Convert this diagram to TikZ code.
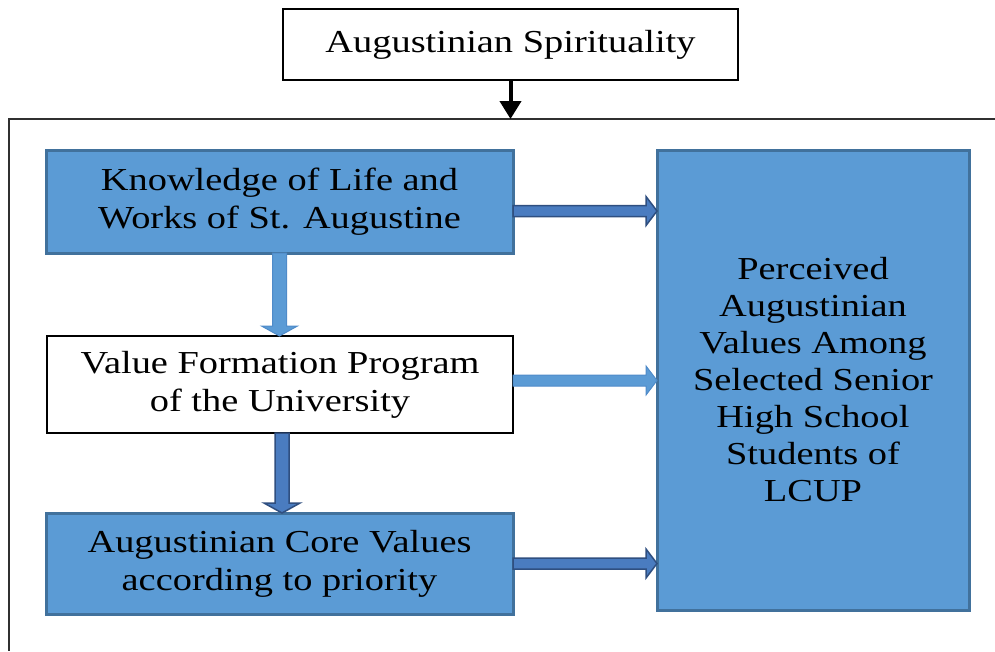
\documentclass[tikz,border=0pt]{standalone}
\usepackage{fontspec}
\setmainfont{Liberation Serif}[FakeStretch=1.2]
\usetikzlibrary{calc,arrows.meta}
\definecolor{boxfill}{HTML}{5B9BD5}
\definecolor{boxdraw}{HTML}{41719C}
\definecolor{darkfill}{HTML}{4A7CC0}
\definecolor{darkdraw}{HTML}{2F4F80}
\definecolor{lightdraw}{HTML}{4F8BC9}
\definecolor{framecol}{HTML}{303030}
\newcommand\hblock[3]{%
  \draw[#3] let \p1=(#1), \p2=(#2) in
    (\x1,\y1+5.5pt) -- (\x2-11pt,\y1+5.5pt) -- (\x2-11pt,\y1+14.5pt) -- (\x2,\y1)
    -- (\x2-11pt,\y1-14.5pt) -- (\x2-11pt,\y1-5.5pt) -- (\x1,\y1-5.5pt) -- cycle;}
\newcommand\vblock[3]{%
  \draw[#3] let \p1=(#1), \p2=(#2) in
    (\x1-7pt,\y1) -- (\x1-7pt,\y2+10pt) -- (\x1-18pt,\y2+10pt) -- (\x1,\y2)
    -- (\x1+18pt,\y2+10pt) -- (\x1+7pt,\y2+10pt) -- (\x1+7pt,\y1) -- cycle;}
\begin{document}
\begin{tikzpicture}[x=1pt,y=-1pt,
  txt/.style={font=\fontsize{32}{38}\selectfont, align=center, inner sep=0pt, outer sep=0pt},
  bluebox/.style={txt, draw=boxdraw, fill=boxfill, line width=3pt},
  whitebox/.style={txt, draw=black, fill=white, line width=2pt},
  darkarrow/.style={fill=darkfill, draw=darkdraw, line width=1.5pt, line join=miter},
  lightarrow/.style={fill=boxfill, draw=lightdraw, line width=1pt, line join=miter}]
\useasboundingbox (0,0) rectangle (995,651);
% outer frame
\coordinate (f1) at (995,119);
\coordinate (f2) at (9,119);
\coordinate (f3) at (9,651);
\draw[framecol, line width=2.5pt] (f1) -- (f2) -- (f3);
% nodes
\node[whitebox, minimum width=455, minimum height=71] (top) at (510.5,44.5) {Augustinian Spirituality};
\node[bluebox, minimum width=467, minimum height=103] (b1) at (279.5,201.5) {Knowledge of Life and\\Works of St. Augustine};
\node[whitebox, minimum width=466, minimum height=97] (b2) at (280,384.5) {Value Formation Program\\of the University};
\node[bluebox, minimum width=467, minimum height=101] (b3) at (279.5,563.5) {Augustinian Core Values\\according to priority};
\node[bluebox, minimum width=312, minimum height=460, font=\fontsize{32}{37}\selectfont] (r) at (813,380)
  {Perceived\\Augustinian\\Values Among\\Selected Senior\\High School\\Students of\\LCUP};
% top arrow
\coordinate (ta) at (top.south |- f2);
\draw[black, line width=4pt, -{Triangle[width=21pt,length=18pt]}] (top.south) -- (ta);
% horizontal block arrows
\coordinate (h1s) at ($(b1.east)+(0,9.5)$);
\coordinate (h1e) at (h1s -| r.west);
\hblock{h1s}{h1e}{darkarrow}
\coordinate (h2s) at ($(b2.east)+(0,-4)$);
\coordinate (h2e) at (h2s -| r.west);
\hblock{h2s}{h2e}{lightarrow}
\coordinate (h3s) at (b3.east);
\coordinate (h3e) at (h3s -| r.west);
\hblock{h3s}{h3e}{darkarrow}
% vertical block arrows
\coordinate (v1s) at (b1.south);
\coordinate (v1e) at (b2.north);
\vblock{v1s}{v1e}{lightarrow}
\coordinate (v2s) at ($(b2.south)+(2,0)$);
\coordinate (v2e) at ($(b3.north)+(2,0)$);
\vblock{v2s}{v2e}{darkarrow}
\end{tikzpicture}
\end{document}
